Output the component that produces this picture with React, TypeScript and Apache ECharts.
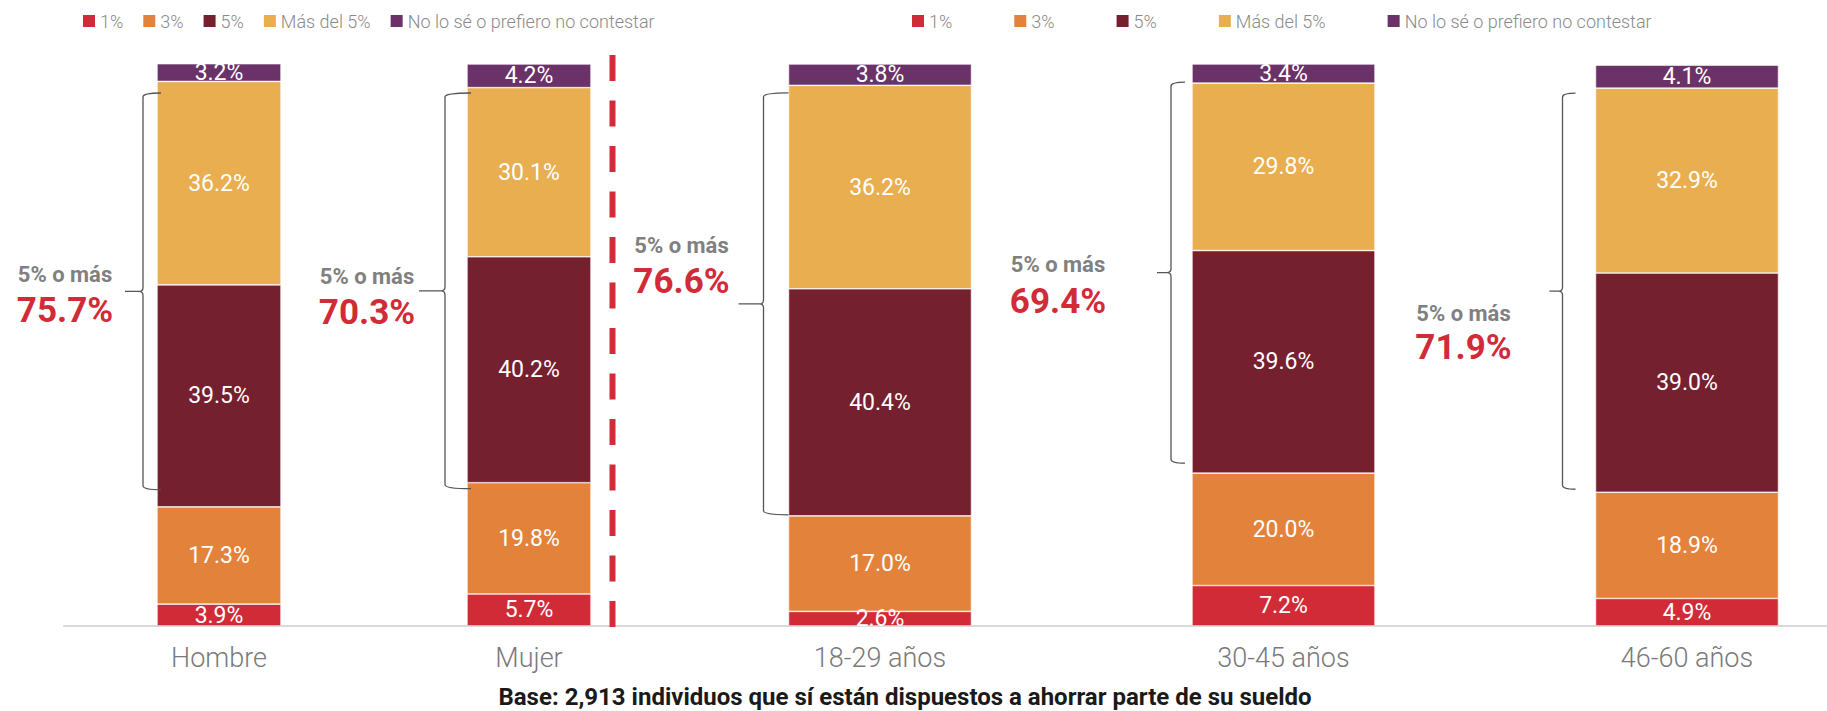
import React, { useEffect, useRef } from 'react';
import * as echarts from 'echarts';

// ---- data ----
const seriesNames = ['1%', '3%', '5%', 'Más del 5%', 'No lo sé o prefiero no contestar'];
const genderCategories = ['Hombre', 'Mujer'];
const ageCategories = ['18-29 años', '30-45 años', '46-60 años'];

const gender1 = [3.9, 5.7];
const gender3 = [17.3, 19.8];
const gender5 = [39.5, 40.2];
const genderMore5 = [36.2, 30.1];
const genderNs = [3.2, 4.2];

const age1 = [2.6, 7.2, 4.9];
const age3 = [17.0, 20.0, 18.9];
const age5 = [40.4, 39.6, 39.0];
const ageMore5 = [36.2, 29.8, 32.9];
const ageNs = [3.8, 3.4, 4.1];

const braceTitle = '5% o más';
const footnote = 'Base: 2,913 individuos que sí están dispuestos a ahorrar parte de su sueldo';

// ---- styles / layout ----
const colors = ['#D22B38', '#E3833B', '#75202E', '#E8AE50', '#6A3268'];
const FONT = 'Roboto';
// per-bar brace layout: gap from bar, tip length, top/bottom insets (px),
// label offsets (dx from tip, dy from segment middle)
const braceLayout = [
  { gap: 14, tip: 18, topIn: 11.6, botIn: 17, dx: -60, dy1: -20, dy2: 16 },
  { gap: 22, tip: 26, topIn: 5.4, botIn: -6, dx: -52, dy1: -9, dy2: 27 },
  { gap: 25, tip: 25, topIn: 7.6, botIn: 1, dx: -57, dy1: -55, dy2: -19 },
  { gap: 21, tip: 14, topIn: -1, botIn: 10, dx: -99, dy1: -14, dy2: 23 },
  { gap: 33, tip: 13, topIn: 5, botIn: 3, dx: -86, dy1: 23, dy2: 57 },
];

function barSeries(groups: number[][], gridIndex: number, barWidth: number) {
  return seriesNames.map((name, i) => ({
    type: 'bar',
    name,
    xAxisIndex: gridIndex,
    yAxisIndex: gridIndex,
    stack: 'g' + gridIndex,
    barWidth,
    data: groups[i],
    itemStyle: { color: colors[i], borderColor: '#ffffff', borderWidth: 0.6 },
    label: {
      show: true,
      position: 'inside',
      color: '#ffffff',
      fontFamily: FONT,
      fontSize: 23,
      formatter: (p: any) => Number(p.value).toFixed(1) + '%',
    },
  }));
}

function braceSeries(groups: number[][], gridIndex: number, barWidth: number, layoutOffset: number) {
  const lows = groups[0].map((v, i) => v + groups[1][i]);
  const highs = lows.map((l, i) => l + groups[2][i] + groups[3][i]);
  const totals = groups[2].map((v, i) => v + groups[3][i]);
  return {
    type: 'custom',
    xAxisIndex: gridIndex,
    yAxisIndex: gridIndex,
    silent: true,
    z: 5,
    encode: { x: 0, y: [1, 2] },
    data: lows.map((l, i) => [i, l, highs[i], totals[i]]),
    renderItem: (params: any, api: any) => {
      const i = params.dataIndex;
      const lay = braceLayout[layoutOffset + i];
      const pLo = api.coord([i, api.value(1)]);
      const pHi = api.coord([i, api.value(2)]);
      const barLeft = pLo[0] - barWidth / 2;
      const x = barLeft - lay.gap;
      const h = lay.tip;
      const top = pHi[1] + lay.topIn;
      const bottom = pLo[1] - lay.botIn;
      const mid = (top + bottom) / 2;
      const segMid = (pHi[1] + pLo[1]) / 2;
      const c = 4;
      const d =
        `M ${x + h} ${top} Q ${x} ${top} ${x} ${top + c} ` +
        `L ${x} ${mid - c} Q ${x} ${mid} ${x - c} ${mid} L ${x - h} ${mid} ` +
        `M ${x - c} ${mid} Q ${x} ${mid} ${x} ${mid + c} ` +
        `L ${x} ${bottom - c} Q ${x} ${bottom} ${x + h} ${bottom}`;
      const tipX = x - h;
      return {
        type: 'group',
        children: [
          {
            type: 'path',
            shape: { pathData: d },
            style: { fill: 'none', stroke: '#555555', lineWidth: 1.3 },
          },
          {
            type: 'text',
            x: tipX + lay.dx,
            y: segMid + lay.dy1,
            style: {
              text: braceTitle,
              fill: '#808080',
              fontFamily: FONT,
              fontWeight: 'bold',
              fontSize: 22,
              align: 'center',
              verticalAlign: 'middle',
            },
          },
          {
            type: 'text',
            x: tipX + lay.dx,
            y: segMid + lay.dy2,
            style: {
              text: Number(api.value(3)).toFixed(1) + '%',
              fill: '#D22B38',
              fontFamily: FONT,
              fontWeight: 'bold',
              fontSize: 35,
              align: 'center',
              verticalAlign: 'middle',
            },
          },
        ],
      };
    },
  };
}

export default function App() {
  const ref = useRef<HTMLDivElement>(null);
  useEffect(() => {
    document.body.style.margin = '0';
    const chart = echarts.init(ref.current!, null, { renderer: 'svg' });
    const genderGroups = [gender1, gender3, gender5, genderMore5, genderNs];
    const ageGroups = [age1, age3, age5, ageMore5, ageNs];
    const xAxisBase = {
      type: 'category',
      axisLine: { show: true, lineStyle: { color: '#D9D9D9', width: 2 } },
      axisTick: { show: false },
      axisLabel: { color: '#7A7A7A', fontFamily: FONT, fontWeight: 300, fontSize: 27, margin: 18 },
    };
    const yAxisBase = { type: 'value', min: 0, max: 100, show: false };
    const legendBase = {
      data: seriesNames,
      top: 12,
      padding: 0,
      icon: 'rect',
      itemWidth: 12,
      itemHeight: 12,
      selectedMode: false,
      itemStyle: { borderWidth: 0 },
      textStyle: { color: '#8A8A8A', fontFamily: FONT, fontWeight: 300, fontSize: 18 },
    };
    const option: any = {
      animation: false,
      backgroundColor: '#ffffff',
      legend: [
        { ...legendBase, left: 83, itemGap: 20 },
        { ...legendBase, left: 912, itemGap: 62 },
      ],
      grid: [
        { left: 64, width: 620, top: 64, bottom: 85, outerBoundsMode: 'none', containLabel: false },
        { left: 678.25, width: 1210.5, top: 64, bottom: 85, outerBoundsMode: 'none', containLabel: false },
      ],
      xAxis: [
        { ...xAxisBase, gridIndex: 0, data: genderCategories },
        { ...xAxisBase, gridIndex: 1, data: ageCategories },
      ],
      yAxis: [
        { ...yAxisBase, gridIndex: 0 },
        { ...yAxisBase, gridIndex: 1 },
      ],
      series: [
        ...barSeries(genderGroups, 0, 124),
        ...barSeries(ageGroups, 1, 183),
        braceSeries(genderGroups, 0, 124, 0),
        braceSeries(ageGroups, 1, 183, 2),
      ],
      graphic: [
        {
          type: 'line',
          z: 100,
          shape: { x1: 612.5, y1: 55, x2: 612.5, y2: 627 },
          style: { stroke: '#D42A3A', lineWidth: 6, lineDash: [26, 19.5] },
        },
        {
          type: 'text',
          x: 905,
          y: 697,
          style: {
            text: footnote,
            fill: '#1A1A1A',
            fontFamily: FONT,
            fontWeight: 'bold',
            fontSize: 24,
            align: 'center',
            verticalAlign: 'middle',
          },
        },
      ],
    };
    chart.setOption(option);
    return () => chart.dispose();
  }, []);
  return <div ref={ref} style={{ width: 1827, height: 711, position: 'absolute', left: 0, top: 0 }} />;
}
